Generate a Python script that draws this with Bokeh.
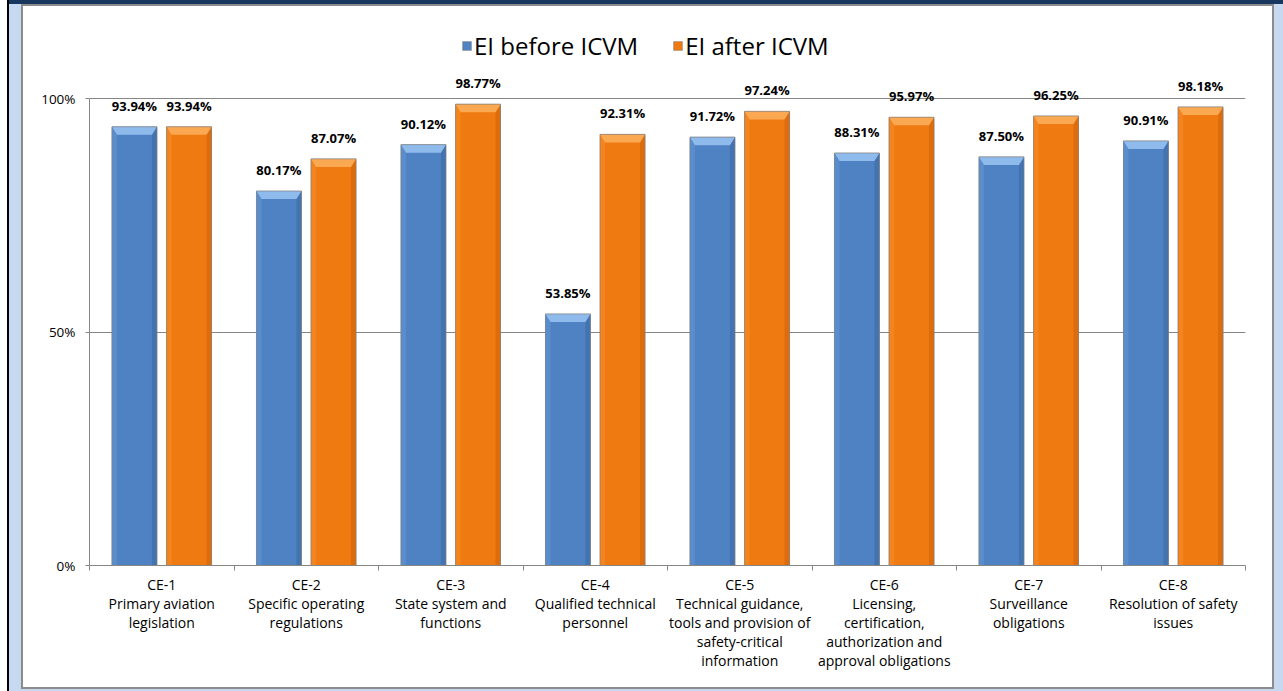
from bokeh.plotting import figure
from bokeh.models import (Range1d, LinearAxis, FixedTicker, Legend, LegendItem,
                          ColumnDataSource, Grid)
from bokeh.embed import file_html
from bokeh.resources import INLINE
from bokeh.core.properties import value

# ---- data -------------------------------------------------------------
codes = ["CE-1", "CE-2", "CE-3", "CE-4", "CE-5", "CE-6", "CE-7", "CE-8"]
names = [
    "Primary aviation\nlegislation",
    "Specific operating\nregulations",
    "State system and\nfunctions",
    "Qualified technical\npersonnel",
    "Technical guidance,\ntools and provision of\nsafety-critical\ninformation",
    "Licensing,\ncertification,\nauthorization and\napproval obligations",
    "Surveillance\nobligations",
    "Resolution of safety\nissues",
]
ei_before = [93.94, 80.17, 90.12, 53.85, 91.72, 88.31, 87.50, 90.91]
ei_after = [93.94, 87.07, 98.77, 92.31, 97.24, 95.97, 96.25, 98.18]
series_names = ["EI before ICVM", "EI after ICVM"]
y_ticks = [0, 50, 100]
y_tick_labels = ["0%", "50%", "100%"]

# ---- page geometry ----------------------------------------------------
W, H = 1283, 691
FRAME_L, FRAME_R, FRAME_B = 89, 1245, 565
Y100 = 98           # canvas row of the 100% line
FRAME_T = 10        # plot frame starts just under the page band
n = len(codes)
y_top = 100.0 * (FRAME_B - FRAME_T) / (FRAME_B - Y100)

FONT = "Open Sans"
GRAY = "#868686"

p = figure(width=W, height=H, x_range=Range1d(0, n), y_range=Range1d(0, y_top),
           x_axis_type=None, y_axis_type=None,
           output_backend="svg", toolbar_location=None,
           min_border_left=FRAME_L, min_border_right=W - FRAME_R,
           min_border_top=FRAME_T, min_border_bottom=H - FRAME_B)
p.outline_line_color = None
p.background_fill_color = "white"
p.border_fill_color = None

# page frame: dark band on top, pale blue margins, grey chart-area border
layers = [
    ("#FFFFFF", 23, 6, 1249, 681),     # chart area
    ("#8C8C8C", 21, 4, 1253, 685),     # chart area border
    ("#17375E", 9, 0, 1274, 4),        # top band
    ("#000000", 7, 0, 2, 691),         # left rule
    ("#C6D9F1", 9, 4, 12, 687),        # left margin
    ("#C6D9F1", 1274, 4, 9, 687),      # right margin
    ("#C6D9F1", 21, 689, 1253, 2),     # bottom margin
]
bg = ", ".join(f"linear-gradient({c},{c}) {x}px {y}px / {w}px {h}px no-repeat"
               for c, x, y, w, h in layers)
p.styles = {"background": bg + ", #FFFFFF"}

# pixel -> data conversion for bevel details
px_x = n / (FRAME_R - FRAME_L)
px_y = 100.0 / (FRAME_B - Y100)

# ---- axes -------------------------------------------------------------
yaxis = LinearAxis(ticker=FixedTicker(ticks=y_ticks), bounds=(0, 100),
                   major_label_overrides={t: s for t, s in zip(y_ticks, y_tick_labels)})
yaxis.axis_line_color = GRAY
yaxis.major_tick_line_color = GRAY
yaxis.major_tick_out = 4
yaxis.major_tick_in = 0
yaxis.minor_tick_line_color = None
yaxis.major_label_standoff = 10
yaxis.major_label_text_font = FONT
yaxis.major_label_text_font_size = "13.5px"
yaxis.major_label_text_color = "#000000"
p.add_layout(yaxis, "left")

p.add_layout(Grid(dimension=1, ticker=FixedTicker(ticks=[50, 100]),
                  grid_line_color=GRAY, grid_line_width=1))

# boundary ticks between categories
tick_axis = LinearAxis(ticker=FixedTicker(ticks=list(range(n + 1))),
                       major_label_overrides={i: "" for i in range(n + 1)})
tick_axis.axis_line_color = GRAY
tick_axis.major_tick_line_color = GRAY
tick_axis.major_tick_out = 5
tick_axis.major_tick_in = 0
tick_axis.minor_tick_line_color = None
tick_axis.major_label_text_font_size = "0px"
tick_axis.major_label_standoff = 0
p.add_layout(tick_axis, "below")

# category names centred in each slot
centers = [i + 0.5 for i in range(n)]
label_axis = LinearAxis(ticker=FixedTicker(ticks=centers),
                        major_label_overrides={c: f"{code}\n{name}" for c, code, name in zip(centers, codes, names)})
label_axis.axis_line_color = None
label_axis.major_tick_line_color = None
label_axis.minor_tick_line_color = None
label_axis.major_label_standoff = -2
label_axis.major_label_text_font = FONT
label_axis.major_label_text_font_size = "14px"
label_axis.major_label_text_line_height = 1.0
label_axis.major_label_text_color = "#000000"
p.add_layout(label_axis, "below")

# ---- bars -------------------------------------------------------------
BAR_W = 0.311
OFFSET = 0.189
palettes = [
    dict(main="#4F82C3", top="#8FBAEC", left="#5A8DCC", right="#4474B0"),
    dict(main="#F07A12", top="#FBA852", left="#F3841E", right="#DC6D0E"),
]

renderers = []
for k, vals in enumerate([ei_before, ei_after]):
    pal = palettes[k]
    xs = [c + (-OFFSET if k == 0 else OFFSET) for c in centers]
    src = ColumnDataSource(dict(x=xs, top=vals,
                                label=[f"{v:.2f}%" for v in vals]))
    r = p.vbar(x="x", top="top", bottom=0, width=BAR_W, source=src,
               fill_color=pal["main"], line_color="#7F7F7F", line_alpha=0.55)
    renderers.append(r)

    # bevel faces
    dx, dy = 5 * px_x, 8 * px_y
    tops_x, tops_y, lefts_x, lefts_y, rights_x, rights_y = [], [], [], [], [], []
    for x, v in zip(xs, vals):
        x0, x1 = x - BAR_W / 2, x + BAR_W / 2
        tops_x.append([x0, x1, x1 - dx, x0 + dx])
        tops_y.append([v, v, v - dy, v - dy])
        lefts_x.append([x0, x0, x0 + dx, x0 + dx])
        lefts_y.append([0, v, v - dy, 0])
        rights_x.append([x1, x1, x1 - dx, x1 - dx])
        rights_y.append([0, v, v - dy, 0])
    p.patches(lefts_x, lefts_y, fill_color=pal["left"], line_color=None)
    p.patches(rights_x, rights_y, fill_color=pal["right"], line_color=None)
    p.patches(tops_x, tops_y, fill_color=pal["top"], line_color=None)

    # thin outline
    p.vbar(x="x", top="top", bottom=0, width=BAR_W, source=src,
           fill_color=None, line_color="#7F7F7F", line_alpha=0.55, line_width=1)

    # value labels
    p.text(x="x", y="top", text="label", source=src,
           text_align="center", text_baseline="bottom", y_offset=-12,
           text_font=value(FONT), text_font_style="bold",
           text_font_size="13px", text_color="#000000")

# ---- legend -----------------------------------------------------------
legend = Legend(items=[LegendItem(label=s, renderers=[r]) for s, r in zip(series_names, renderers)],
                orientation="horizontal",
                location=(372, 503))
legend.border_line_color = None
legend.background_fill_alpha = 0
legend.glyph_width = 11
legend.glyph_height = 11
legend.label_standoff = 2
legend.spacing = 34
legend.padding = 0
legend.margin = 0
legend.label_text_font = FONT
legend.label_text_font_size = "24px"
legend.label_text_color = "#000000"
p.add_layout(legend, "center")

open("out.html", "w").write(file_html(p, INLINE))
